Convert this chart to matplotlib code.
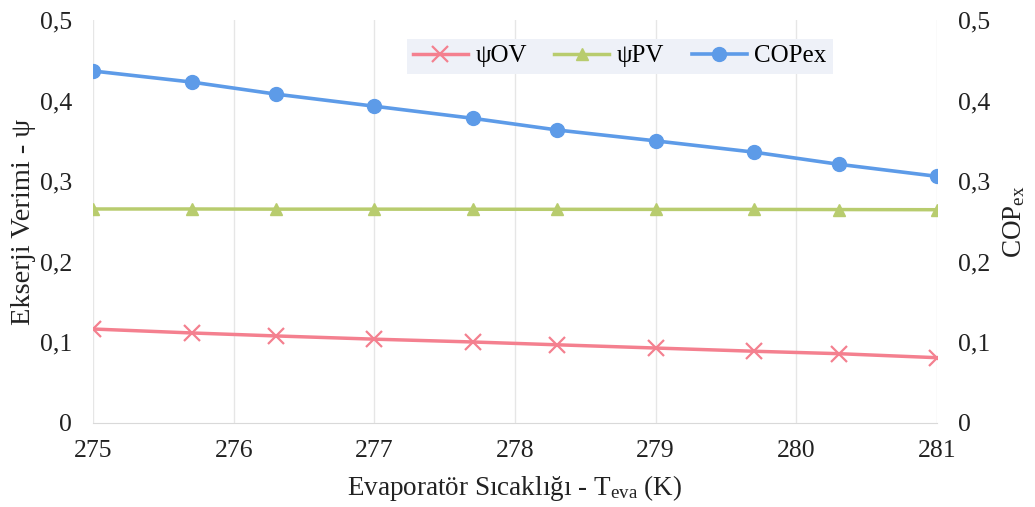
import matplotlib.pyplot as plt
import numpy as np

# evaporator temperature (K)
t_eva = [275, 275.7, 276.3, 277, 277.7, 278.3, 279, 279.7, 280.3, 281]

# exergy efficiencies
psi_ov = [0.1166, 0.1117, 0.108, 0.104, 0.1005, 0.097, 0.093, 0.089, 0.086, 0.081]
psi_pv = [0.2655, 0.2655, 0.2653, 0.2653, 0.2652, 0.2651, 0.265, 0.265, 0.2648, 0.2646]
cop_ex = [0.4367, 0.423, 0.408, 0.393, 0.378, 0.3635, 0.350, 0.336, 0.321, 0.306]

x_ticks = [275, 276, 277, 278, 279, 280, 281]
y_ticks = [0, 0.1, 0.2, 0.3, 0.4, 0.5]
y_labels = ['0', '0,1', '0,2', '0,3', '0,4', '0,5']

plt.rcParams['font.family'] = ['Liberation Serif', 'DejaVu Serif']
plt.rcParams['mathtext.fontset'] = 'custom'
plt.rcParams['mathtext.rm'] = 'Liberation Serif'
plt.rcParams['mathtext.it'] = 'Liberation Serif'

c_ov = '#f4808f'
c_pv = '#b8cc6e'
c_cop = '#5d9be8'
txt = '#222222'

fig, ax = plt.subplots(figsize=(10.35, 5.07), dpi=100)
fig.subplots_adjust(left=0.0899, right=0.9053, top=0.9606, bottom=0.1657)
ax2 = ax.twinx()

l1, = ax.plot(t_eva, psi_ov, color=c_ov, lw=2.5, marker='x', ms=11, mew=1.6, label='ψOV')
l2, = ax.plot(t_eva, psi_pv, color=c_pv, lw=2.5, marker='^', ms=9, label='ψPV')
l3, = ax2.plot(t_eva, cop_ex, color=c_cop, lw=2.6, marker='o', ms=10, label='COPex')

for a in (ax, ax2):
    a.set_ylim(0, 0.5)
    a.set_yticks(y_ticks)
    a.set_yticklabels(y_labels)
    a.set_xlim(275, 281)
    a.tick_params(axis='y', labelsize=18.5, length=0, pad=15, colors=txt)
    for s in a.spines.values():
        s.set_visible(False)

ax.set_xticks(x_ticks)
ax.tick_params(axis='x', labelsize=18.5, length=0, pad=12, colors=txt)
ax.grid(axis='x', color='#e6e6e6', lw=1)
ax.spines['bottom'].set_visible(True)
ax.spines['bottom'].set_color('#d9d9d9')

ax.set_xlabel('Evaporatör Sıcaklığı - T$_{\\mathrm{eva}}$ (K)', fontsize=19.5, color=txt, labelpad=8)
ax.set_ylabel('Ekserji Verimi - ψ', fontsize=20.5, color=txt, labelpad=3)
ax2.set_ylabel('COP$_{\\mathrm{ex}}$', fontsize=19.5, color=txt, labelpad=8)

leg = ax2.legend(handles=[l1, l2, l3], loc='upper center', bbox_to_anchor=(0.624, 0.985), ncol=3,
                 fontsize=18, frameon=True, fancybox=False, handlelength=2.2,
                 columnspacing=1.1, handletextpad=0.3, borderpad=0.25)
leg.get_frame().set_facecolor('#eef1f8')
leg.get_frame().set_edgecolor('none')
leg.get_frame().set_alpha(1)

fig.savefig('out.png', dpi=100)
